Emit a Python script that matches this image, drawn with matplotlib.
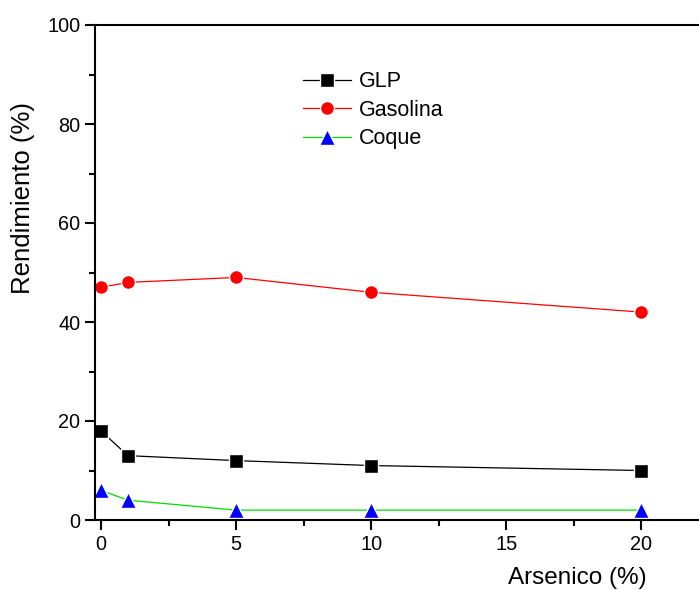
import matplotlib
matplotlib.use("Agg")
import matplotlib.pyplot as plt
from matplotlib.ticker import MultipleLocator

plt.rcParams['font.family'] = ['Liberation Sans', 'DejaVu Sans']

arsenico = [0, 1, 5, 10, 20]
glp = [18, 13, 12, 11, 10]
gasolina = [47, 48, 49, 46, 42]
coque = [6, 4, 2, 2, 2]

fig = plt.figure(figsize=(6.99, 5.9), dpi=100)
# axes runs past the right edge of the figure, as in the original
ax = fig.add_axes([95/699, 70/590, 614/699, 495/590])

ax.plot(arsenico, glp, color='black', lw=0.9, marker='s', ms=9.5,
        mfc='black', mec='white', mew=1.0, label='GLP')
ax.plot(arsenico, gasolina, color='red', lw=0.9, marker='o', ms=10,
        mfc='red', mec='white', mew=1.0, label='Gasolina')
ax.plot(arsenico, coque, color='#00dd00', lw=0.9, marker='^', ms=11,
        mfc='blue', mec='white', mew=1.0, label='Coque')

ax.set_xlim(-0.22, 22.5)
ax.set_ylim(0, 100)
ax.xaxis.set_major_locator(MultipleLocator(5))
ax.xaxis.set_minor_locator(MultipleLocator(2.5))
ax.yaxis.set_major_locator(MultipleLocator(20))
ax.yaxis.set_minor_locator(MultipleLocator(10))
ax.tick_params(which='major', direction='out', length=7, width=1.5, labelsize=14.3)
ax.tick_params(which='minor', direction='out', length=4, width=1.5)
for s in ax.spines.values():
    s.set_linewidth(1.5)

ax.set_xlabel('Arsenico (%)', fontsize=17.5)
ax.xaxis.set_label_coords((577 - 95) / 614, -0.095)
ax.set_ylabel('Rendimiento (%)', fontsize=18.5)
ax.yaxis.set_label_coords(-0.098, 0.65)

leg = ax.legend(loc='upper left', bbox_to_anchor=(284/699, 1 - 52/590),
                bbox_transform=fig.transFigure, frameon=False, fontsize=15.5,
                handlelength=2.2, handletextpad=0.37, labelspacing=0.35)

fig.savefig('out.png', dpi=100)
